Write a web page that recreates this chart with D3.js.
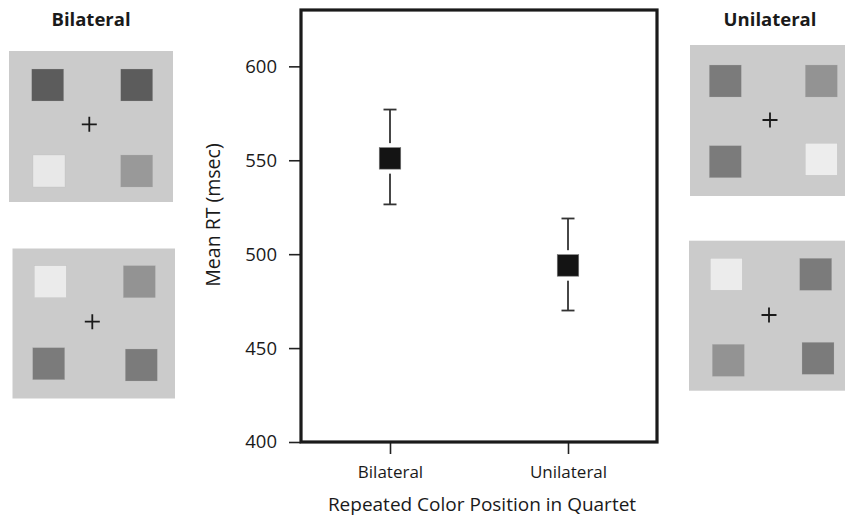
<!DOCTYPE html>
<html><head><meta charset="utf-8">
<script src="https://cdn.jsdelivr.net/npm/d3@7"></script>
<style>body{margin:0;background:#fff}svg{display:block}text{font-family:"Open Sans",sans-serif;fill:#1a1a1a}</style>
</head><body><svg id="c" width="845" height="516"></svg>
<script>
const categories = ["Bilateral", "Unilateral"];
const means = [551, 494];
const errLow = [526.5, 470];
const errHigh = [577, 519];
const yTicks = [400, 450, 500, 550, 600];
const yDomain = [400, 630];
const yTitle = "Mean RT (msec)";
const xTitle = "Repeated Color Position in Quartet";
const panelTitles = ["Bilateral", "Unilateral"];
// stimulus illustration panels (decorations): square grey levels TL,TR,BL,BR
const panelGreys = [
  ["#5c5c5c", "#5c5c5c", "#e8e8e8", "#999999"],
  ["#ebebeb", "#939393", "#7b7b7b", "#7b7b7b"],
  ["#7b7b7b", "#939393", "#7b7b7b", "#ededed"],
  ["#ececec", "#7b7b7b", "#939393", "#7b7b7b"]
];

const svg = d3.select("#c");
const W = {l:301, r:657, t:10, b:442};
const y = d3.scaleLinear().domain(yDomain).range([W.b, W.t]);
const x = d3.scalePoint().domain(categories).range([W.l, W.r]).padding(0.5);

// axes
const ya = svg.append("g").attr("transform",`translate(${W.l},0)`)
  .call(d3.axisLeft(y).tickValues(yTicks).tickSize(12).tickPadding(12));
ya.select(".domain").remove();
ya.selectAll("line").attr("stroke","#222").attr("stroke-width",1.6);
ya.selectAll("text").attr("font-size",18.5).attr("fill","#1a1a1a");

const xa = svg.append("g").attr("transform",`translate(0,${W.b})`)
  .call(d3.axisBottom(x).tickSize(12).tickPadding(12));
xa.select(".domain").remove();
xa.selectAll("line").attr("stroke","#222").attr("stroke-width",1.6);
xa.selectAll("text").attr("font-size",17).attr("fill","#1a1a1a");

// frame
svg.append("rect").attr("x",W.l).attr("y",W.t).attr("width",W.r-W.l).attr("height",W.b-W.t)
  .attr("fill","none").attr("stroke","#1a1a1a").attr("stroke-width",3.2);

// error bars
const g = svg.append("g");
categories.forEach((c,i)=>{
  const cx = x(c);
  g.append("line").attr("x1",cx).attr("x2",cx).attr("y1",y(errLow[i])).attr("y2",y(errHigh[i]))
    .attr("stroke","#333").attr("stroke-width",1.8);
  [errLow[i], errHigh[i]].forEach(v=>{
    g.append("line").attr("x1",cx-6.5).attr("x2",cx+6.5).attr("y1",y(v)).attr("y2",y(v))
      .attr("stroke","#333").attr("stroke-width",1.8);
  });
  const s = 21.5;
  g.append("rect").attr("x",cx-s/2-4.5).attr("y",y(means[i])-s/2-4.5).attr("width",s+9).attr("height",s+9).attr("fill","#fff");
  g.append("rect").attr("x",cx-s/2).attr("y",y(means[i])-s/2).attr("width",s).attr("height",s)
    .attr("fill","#141414").attr("stroke","#777").attr("stroke-width",0.6);
});

// titles
const ytx = 213, yty = 215;
svg.append("text").attr("x",ytx).attr("y",yty).attr("text-anchor","middle")
  .attr("transform",`rotate(-90,${ytx},${yty})`).attr("dy","0.35em")
  .attr("font-size",19.5).text(yTitle);
svg.append("text").attr("x",482).attr("y",511).attr("text-anchor","middle")
  .attr("font-size",19).text(xTitle);

// stimulus panels
const panels = [
  {x:9, y:51, w:164, h:151, sq:[[31.7,69],[120.7,69],[33,155],[120.7,155]], cross:[89.3,124.3]},
  {x:12.5, y:248.5, w:162.5, h:150, sq:[[34.3,265.7],[123.3,265.7],[32.7,347.7],[125.3,349]], cross:[92.3,321.7]},
  {x:690, y:45, w:155, h:151, sq:[[709.3,65],[805.3,65],[709.3,145.7],[805.3,143.3]], cross:[770,120]},
  {x:689, y:240.7, w:156, h:150, sq:[[710.3,258.3],[799.7,258.3],[712.3,344.3],[802,342.3]], cross:[769,315]}
];
panels.forEach((p,pi)=>{
  const pg = svg.append("g");
  pg.append("rect").attr("x",p.x).attr("y",p.y).attr("width",p.w).attr("height",p.h).attr("fill","#cbcbcb");
  p.sq.forEach((s,si)=>{
    pg.append("rect").attr("x",s[0]).attr("y",s[1]).attr("width",32).attr("height",32)
      .attr("fill",panelGreys[pi][si]).attr("stroke","#b5b5b5").attr("stroke-width",0.5).attr("stroke-opacity",0.5);
  });
  const [cx,cy]=p.cross;
  pg.append("path").attr("d",`M${cx-7.5},${cy}H${cx+7.5}M${cx},${cy-7.5}V${cy+7.5}`)
    .attr("stroke","#1a1a1a").attr("stroke-width",1.8);
});
svg.append("text").attr("x",91).attr("y",26).attr("text-anchor","middle").attr("font-weight","bold").attr("font-size",18.5).text(panelTitles[0]);
svg.append("text").attr("x",770).attr("y",26).attr("text-anchor","middle").attr("font-weight","bold").attr("font-size",18.5).text(panelTitles[1]);
</script></body></html>
